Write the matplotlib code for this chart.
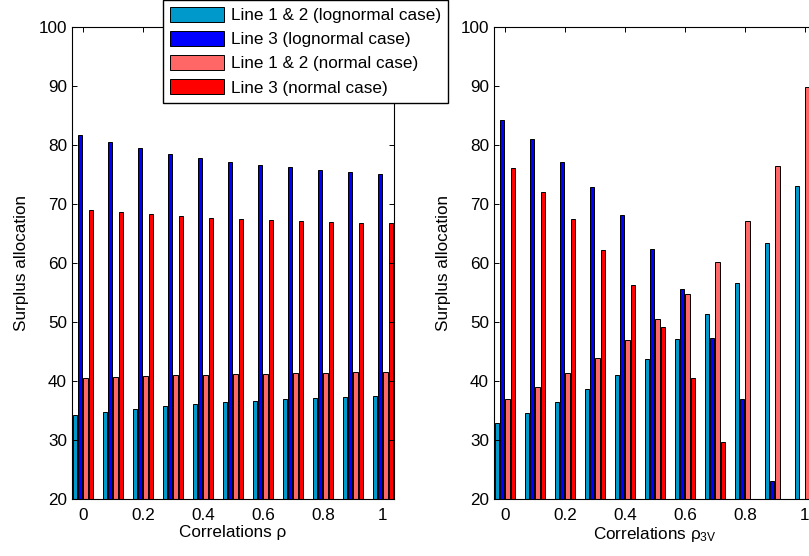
import matplotlib
matplotlib.use("Agg")
import matplotlib.pyplot as plt
import numpy as np

plt.rcParams['font.family'] = ['Liberation Sans', 'DejaVu Sans']
plt.rcParams['mathtext.fontset'] = 'custom'
plt.rcParams['mathtext.rm'] = 'Liberation Sans'
plt.rcParams['mathtext.it'] = 'Liberation Sans'
plt.rcParams['mathtext.bf'] = 'Liberation Sans:bold'

# ---- data ----
correlations = [0, 0.1, 0.2, 0.3, 0.4, 0.5, 0.6, 0.7, 0.8, 0.9, 1.0]
xtick_values = [0, 0.2, 0.4, 0.6, 0.8, 1]
xtick_labels = ['0', '0.2', '0.4', '0.6', '0.8', '1']
ytick_values = [20, 30, 40, 50, 60, 70, 80, 90, 100]

series_labels = ['Line 1 & 2 (lognormal case)', 'Line 3 (lognormal case)',
                 'Line 1 & 2 (normal case)', 'Line 3 (normal case)']
series_colors = ['#0099CC', '#0000FF', '#FF6666', '#FF0000']

# left panel: correlations rho
left_ln12 = [34.17, 34.77, 35.27, 35.72, 36.05, 36.38, 36.67, 36.88, 37.05, 37.22, 37.38]
left_ln3 = [81.69, 80.45, 79.44, 78.54, 77.81, 77.19, 76.68, 76.24, 75.84, 75.45, 75.16]
left_n12 = [40.44, 40.61, 40.83, 40.94, 41.05, 41.16, 41.27, 41.33, 41.38, 41.50, 41.50]
left_n3 = [68.99, 68.60, 68.25, 68.03, 67.69, 67.47, 67.30, 67.13, 66.96, 66.85, 66.73]

# right panel: correlations rho_3V
right_ln12 = [32.88, 34.56, 36.46, 38.65, 41.01, 43.81, 47.20, 51.35, 56.56, 63.44, 73.03]
right_ln3 = [84.27, 80.96, 77.19, 72.92, 68.08, 62.41, 55.66, 47.36, 36.87, 23.10, 3.90]
right_n12 = [37.03, 38.99, 41.30, 43.88, 46.90, 50.45, 54.76, 60.10, 67.07, 76.40, 89.90]
right_n3 = [76.07, 72.02, 67.47, 62.24, 56.30, 49.10, 40.50, 29.73, 15.90, -2.80, -29.80]

W, H = 809, 556
fig = plt.figure(figsize=(W / 100, H / 100), dpi=100)

FS = 12.3
spacing = 0.1
group_w = spacing * 4 / 5.5
pitch = group_w / 4
bar_w = pitch * 0.8


def make_panel(ax, data, xlabel):
    x = np.array(correlations)
    handles = []
    for i, (vals, col, lab) in enumerate(zip(data, series_colors, series_labels)):
        off = (i - 1.5) * pitch
        h = ax.bar(x + off, vals, width=bar_w, color=col, edgecolor='black',
                   linewidth=0.7, label=lab)
        handles.append(h)
    ax.set_xlim(-group_w / 2, 1 + group_w / 2)
    ax.set_ylim(20, 100)
    ax.set_xticks(xtick_values)
    ax.set_xticklabels(xtick_labels)
    ax.set_yticks(ytick_values)
    ax.tick_params(direction='in', top=True, right=True, length=3.3, width=0.7,
                   labelsize=FS)
    ax.tick_params(axis='x', pad=6.8)
    ax.tick_params(axis='y', pad=3.6)
    for s in ax.spines.values():
        s.set_linewidth(0.8)
    ax.set_ylabel('Surplus allocation', fontsize=FS, labelpad=7)
    ax.set_xlabel(xlabel, fontsize=FS, labelpad=1)
    return handles


axw = 321.8 / W
axb = 1 - 499 / H
axh = (499 - 27) / H
ax1 = fig.add_axes([72 / W, axb, axw, axh])
ax2 = fig.add_axes([494 / W, axb, axw, axh])

handles = make_panel(ax1, [left_ln12, left_ln3, left_n12, left_n3], 'Correlations ρ')
make_panel(ax2, [right_ln12, right_ln3, right_n12, right_n3], r'Correlations $\rho_{\mathrm{3V}}$')

leg = fig.legend(handles, series_labels, loc='upper left',
                 bbox_to_anchor=(163 / W, 1.0), bbox_transform=fig.transFigure,
                 fontsize=FS, frameon=True, fancybox=False, framealpha=1,
                 edgecolor='black', borderpad=0.42, handlelength=3.15,
                 handleheight=0.94, handletextpad=0.4, labelspacing=0.46,
                 borderaxespad=0)
leg.get_frame().set_linewidth(1.0)

fig.savefig('out.png', dpi=100)
